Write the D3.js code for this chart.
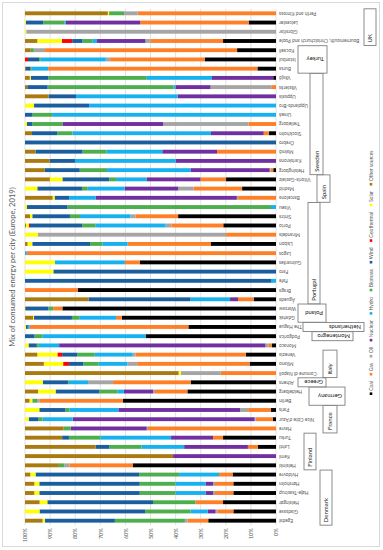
<!DOCTYPE html>
<html>
<head>
<meta charset="utf-8">
<script src="https://cdn.jsdelivr.net/npm/d3@7"></script>
<style>
  html, body { margin: 0; padding: 0; background: #fff; }
  svg, svg text { font-family: Lato, "Liberation Sans", "DejaVu Sans", Arial, sans-serif; }
  svg { display: block; }
</style>
</head>
<body>
<svg id="chart" width="383" height="550"></svg>
<script>
// cities in original category order (first = bottom of the rotated chart)
const cities = [
  "Egedal", "Gladsaxe", "Helsingør", "Høje-Taastrup", "Hørsholm", "Hvidovre",
  "Helsinki", "Kemi", "Lahti", "Turku",
  "Havre", "Nice Côte d'Azur", "Paris",
  "Berlin", "Heidelberg",
  "Athens",
  "Comune di Napoli", "Milano", "Venezia",
  "Monaco",
  "Podgorica",
  "The Hague",
  "Gdańsk", "Warsaw",
  "Águeda", "Braga", "Fafe", "Faro", "Guimarães", "Lagos", "Lisbon", "Mirandela", "Porto", "Sintra", "Viseu",
  "Barcelona", "Madrid", "Vitoria-Gasteiz",
  "Helsingborg", "Karlskrona", "Malmö", "Örebro", "Stockholm", "Trelleborg", "Umeå", "Upplands-Bro", "Uppsala", "Västerås", "Växjö",
  "Bursa", "Istanbul", "Kocaeli",
  "Bournemouth, Christchurch and Poole", "Gibraltar", "Leicester", "Perth and Kinross"
];

const groupNames = ["Denmark", "Finland", "France", "Germany", "Greece", "Italy", "", "Montenegro",
  "Netherlands", "Poland", "Portugal", "Spain", "Sweden", "Turkey", "UK"];
const groupSizes = [6, 4, 3, 2, 1, 3, 1, 1, 1, 2, 11, 3, 11, 3, 4];

const sources = ["Coal", "Gas", "Oil", "Nuclear", "Hydro", "Biomass", "Wind", "Geothermal", "Solar", "Other sources"];

// shares in % (same order as cities)
const coal = [27.0, 17.0, 21.1, 17.0, 17.0, 17.3,  57.1, 0, 7.2, 21.1,  0, 1.3, 2.1,  61.0, 35.3,  34.0,
  0, 10.5, 12.0,  1.7,  51.9,  34.9,  61.4, 85.1,
  8.9, 79.0, 0, 0, 54.2, 0, 25.9, 0, 21.0, 39.0, 0,  0, 13.5, 19.9,
  1.1, 0, 0, 0, 2.9, 0, 0, 0, 0, 0, 1.1,  7.4, 28.4, 15.5,  21.1, 0, 10.9, 0];
const gas = [8.2, 6.4, 11.0, 7.3, 7.3, 5.4,  25.2, 0, 4.0, 4.0,  51.0, 6.8, 9.0,  33.3, 12.9,  30.9,
  22.0, 44.8, 44.0,  1.2,  0,  63.3,  2.3, 3.6,
  6.2, 21.0, 0, 0, 6.0, 99.3, 33.2, 19.9, 20.7, 17.0, 0,  15.1, 19.3, 10.2,
  1.1, 0, 23.5, 0, 2.0, 11.0, 0, 0, 0, 1.9, 0,  83.4, 37.7, 76.5,  29.0, 0, 43.2, 55.1];
const oil = [1.1, 0.7, 0, 0.7, 0.7, 0,  2.1, 0, 0, 0,  0.5, 0.4, 3.2,  0.9, 0.8,  10.0,
  15.9, 3.9, 1.1,  1.3,  0,  0,  0, 0,
  0, 0, 0, 0, 0, 0, 0, 75.0, 2.3, 2.0, 0,  0.5, 6.1, 0,
  0.3, 0, 0, 0, 0, 34.0, 0, 0, 0, 24.2, 0,  0, 1.7, 4.5,  1.9, 99.5, 0, 5.4];
const nuclear = [0, 3.1, 0, 3.1, 3.1, 0,  0, 41.0, 25.4, 16.7,  30.3, 72.5, 48.5,  0, 11.6,  0,
  0, 0, 0,  82.2,  0,  0,  0, 0,
  3.2, 0, 0, 0, 0, 0, 0, 0, 0, 0, 0,  56.3, 21.4, 21.5,
  31.6, 40.0, 21.8, 0, 21.0, 40.1, 0, 0, 39.2, 13.9, 24.4,  0, 0, 0,  19.3, 0, 29.6, 0];
const hydro = [0, 6.9, 0, 12.0, 12.0, 15.9,  0, 0, 17.0, 28.2,  0, 12.0, 19.5,  0, 2.5,  7.6,
  0, 11.4, 15.1,  8.1,  41.2,  0.7,  14.7, 0,
  15.9, 0, 2.0, 0, 27.9, 0.7, 10.1, 0, 28.0, 20.1, 2.0,  10.5, 14.7, 12.1,
  33.2, 40.1, 22.2, 0, 55.2, 0, 89.2, 74.4, 40.5, 0.8, 26.0,  6.5, 25.9, 0,  1.9, 0, 0.5, 0];
const biomass = [27.9, 18.1, 16.9, 14.2, 14.2, 15.9,  2.1, 0, 12.9, 12.5,  2.9, 1.6, 1.6,  1.9, 7.3,  0.4,
  0, 6.2, 7.0,  0.8,  3.1,  0,  2.9, 2.0,
  0, 0, 0, 0, 0, 0, 4.9, 0, 5.2, 4.0, 81.1,  0, 2.3, 2.7,
  10.9, 0, 9.6, 0, 6.0, 12.0, 7.8, 0, 0, 50.2, 39.2,  0.5, 0.7, 1.2,  4.0, 0, 8.5, 6.0];
const wind = [27.9, 42.1, 42.1, 40.0, 40.0, 41.3,  0, 0, 5.4, 2.7,  0, 3.9, 10.4,  0, 17.4,  10.0,
  0, 5.7, 6.0,  3.3,  3.8,  0.7,  15.1, 8.9,
  40.5, 0, 98.0, 88.7, 0, 0, 23.0, 0, 20.8, 15.0, 16.1,  5.8, 17.8, 18.7,
  13.9, 10.1, 18.7, 100, 10.1, 2.1, 3.0, 22.0, 10.9, 8.1, 7.0,  1.8, 4.4, 0,  4.0, 0, 6.9, 0];
const geothermal = [0, 0, 0, 0, 0, 0,  0, 0, 0, 0,  0, 0, 0,  0, 0,  0,
  0, 2.3, 1.9,  0,  0,  0,  0, 0,
  0, 0, 0, 0, 0, 0, 0, 0, 0.5, 0, 0,  0, 0, 0,
  0, 0, 0, 0, 0, 0, 0, 0, 0, 0, 0,  0, 1.2, 0,  4.1, 0, 0, 0];
const solar = [0.9, 5.8, 3.1, 2.0, 2.0, 2.1,  0, 0, 0, 0,  0, 1.5, 5.7,  1.1, 7.0,  7.1,
  0.9, 7.7, 8.0,  1.4,  0,  0.4,  0.4, 0,
  0, 0, 0, 11.3, 11.9, 0, 1.9, 5.1, 1.1, 0.9, 0.8,  0.8, 4.9, 5.0,
  0, 0, 0, 0, 0, 0.8, 0, 3.6, 0, 0, 0.4,  0, 0, 0,  9.8, 0.5, 0.4, 0.5];
const otherSources = [7.0, 0, 5.8, 3.7, 3.7, 2.1,  13.5, 59.0, 28.1, 14.8,  15.3, 0, 0,  1.8, 5.2,  0,
  61.2, 7.5, 4.9,  0,  0,  0,  3.2, 0.4,
  25.3, 0, 0, 0, 0, 0, 1.0, 0, 0.4, 2.0, 0,  11.0, 0, 9.9,
  7.9, 9.8, 4.2, 0, 2.8, 0, 0, 0, 9.4, 0.9, 1.9,  0.4, 0, 2.3,  4.9, 0, 0, 33.0];

const percentTicks = [0, 0.1, 0.2, 0.3, 0.4, 0.5, 0.6, 0.7, 0.8, 0.9, 1];

// ---- styling / layout ----
const colors = ["#000000", "#ff7f27", "#a5a5a5", "#7030a0", "#17b1ef", "#4cae4c", "#1a5e9e", "#ff0000", "#ffff00", "#a87a10"];
const textGrey = "#595959";
// text boxes holding country names (x extents in px, vertical = rotated text)
const boxLayout = {
  Denmark: { x0: 320, x1: 332, vertical: true },
  Finland: { x0: 304, x1: 316, vertical: true },
  France: { x0: 323, x1: 337, vertical: true },
  Germany: { x0: 309, x1: 345, vertical: false },
  Greece: { x0: 298, x1: 326, vertical: false },
  Italy: { x0: 323, x1: 337, vertical: true },
  Montenegro: { x0: 312, x1: 353, vertical: false },
  Netherlands: { x0: 303, x1: 364, vertical: false },
  Poland: { x0: 298, x1: 326, vertical: false },
  Portugal: { x0: 308, x1: 320, vertical: true },
  Spain: { x0: 317, x1: 330, vertical: true },
  Sweden: { x0: 310, x1: 323, vertical: true },
  Turkey: { x0: 298, x1: 327, vertical: false },
  UK: { x0: 364, x1: 376, vertical: true }
};

const series = [coal, gas, oil, nuclear, hydro, biomass, wind, geothermal, solar, otherSources];
const rows = cities.map((c, i) => {
  const r = { city: c };
  sources.forEach((s, k) => { r[s] = series[k][i]; });
  return r;
});

const svg = d3.select("#chart");
svg.append("rect").attr("width", 383).attr("height", 550).attr("fill", "#fff");
svg.append("rect")
  .attr("x", 2.5).attr("y", 2.5).attr("width", 377).attr("height", 544)
  .attr("fill", "none").attr("stroke", "#d9d9d9");

const x = d3.scaleLinear().domain([0, 1]).range([276, 25]);
const y = d3.scaleBand()
  .domain(cities.slice().reverse())
  .range([8.7, 525.3])
  .paddingInner(0.58)
  .paddingOuter(0.29);
const color = d3.scaleOrdinal().domain(sources).range(colors);
const yc = c => y(c) + y.bandwidth() / 2;

// gridlines
svg.append("g").selectAll("line").data(percentTicks).join("line")
  .attr("x1", d => x(d)).attr("x2", d => x(d))
  .attr("y1", 8.7).attr("y2", 525.3)
  .attr("stroke", "#d9d9d9").attr("stroke-width", 0.8);

// stacked bars
const stacked = d3.stack().keys(sources).offset(d3.stackOffsetExpand)(rows);
svg.append("g").selectAll("g").data(stacked).join("g")
  .attr("fill", d => color(d.key))
  .selectAll("rect").data(d => d).join("rect")
    .attr("x", d => x(d[1]))
    .attr("width", d => Math.max(0, x(d[0]) - x(d[1])))
    .attr("y", d => y(d.data.city))
    .attr("height", y.bandwidth());

// value axis (rotated labels under the plot)
const axis = svg.append("g")
  .attr("transform", "translate(0,525.3)")
  .call(d3.axisBottom(x).tickValues(percentTicks).tickFormat(d3.format(".0%")).tickSize(0));
axis.attr("font-family", null);
axis.select(".domain").remove();
axis.selectAll("text")
  .attr("y", 0).attr("x", -3).attr("dy", "0.32em")
  .attr("transform", "rotate(-90)")
  .style("text-anchor", "end")
  .attr("fill", textGrey)
  .style("font-size", "5.5px");

// city labels (upside down, as in the rotated source)
svg.append("g").selectAll("text").data(cities).join("text")
  .attr("x", 279).attr("y", d => yc(d))
  .attr("dy", "0.32em")
  .attr("transform", d => `rotate(180,279,${yc(d)})`)
  .attr("text-anchor", "end")
  .attr("fill", textGrey)
  .style("font-size", "4.8px")
  .text(d => d);

// title
svg.append("text")
  .attr("transform", "translate(13,267) rotate(-90)")
  .attr("text-anchor", "middle")
  .attr("dy", "0.32em")
  .attr("fill", textGrey)
  .style("font-size", "7.6px")
  .text("Mix of consumed energy per city (Europe, 2019)");

// country boxes
let start = 0;
const groups = groupNames.map((g, i) => {
  const members = cities.slice(start, start + groupSizes[i]);
  start += groupSizes[i];
  return { name: g, first: members[0], last: members[members.length - 1] };
}).filter(g => boxLayout[g.name]);

const boxG = svg.append("g");
groups.forEach(g => {
  const L = boxLayout[g.name];
  const y0 = yc(g.last) - 4.5, y1 = yc(g.first) + 4.5;
  boxG.append("rect")
    .attr("x", L.x0).attr("y", y0)
    .attr("width", L.x1 - L.x0).attr("height", y1 - y0)
    .attr("fill", "#fff").attr("stroke", "#7f7f7f").attr("stroke-width", 0.9);
  const t = boxG.append("text")
    .attr("fill", "#222")
    .style("font-size", "6px")
    .attr("dy", "0.35em")
    .text(g.name);
  if (L.vertical) {
    const cx = (L.x0 + L.x1) / 2, ty = y1 - 3;
    t.attr("x", cx).attr("y", ty).attr("transform", `rotate(-90,${cx},${ty})`);
  } else {
    const tx = L.x1 - 3, cy = (y0 + y1) / 2;
    t.attr("x", tx).attr("y", cy).attr("transform", `rotate(180,${tx},${cy})`);
  }
});

// legend (vertical, reading bottom to top)
const legend = svg.append("g");
let ly = 395;
const lx = 371;
sources.forEach(s => {
  legend.append("rect")
    .attr("x", lx - 1.3).attr("y", ly - 2.6)
    .attr("width", 2.6).attr("height", 2.6)
    .attr("fill", color(s));
  const ty = ly - 4.2;
  const t = legend.append("text")
    .attr("x", lx).attr("y", ty)
    .attr("dy", "0.32em")
    .attr("transform", `rotate(-90,${lx},${ty})`)
    .attr("fill", textGrey)
    .style("font-size", "5px")
    .text(s);
  ly = ty - t.node().getComputedTextLength() - 5.5;
});
</script>
</body>
</html>
